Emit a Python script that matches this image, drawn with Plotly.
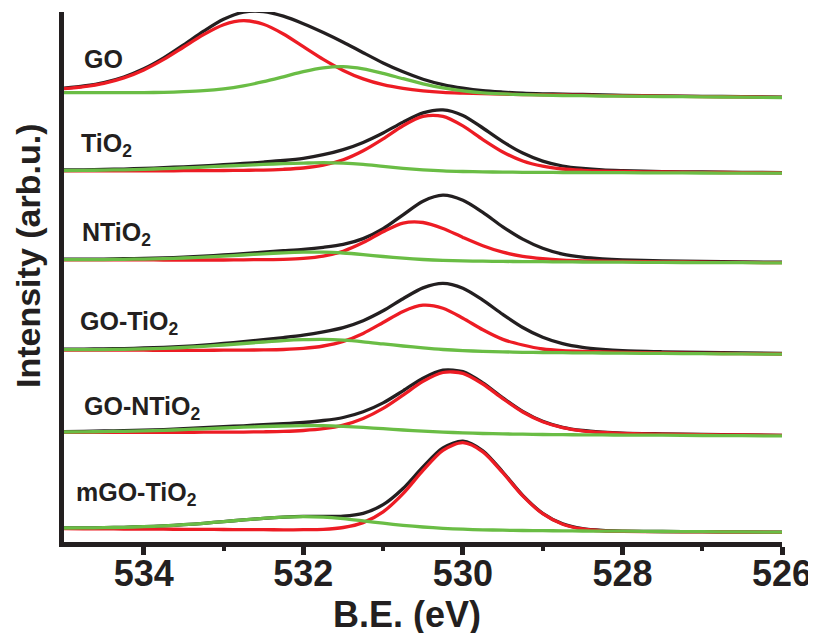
import plotly.graph_objects as go

# Binding energy grid (eV)
be = [535, 534.75, 534.5, 534.25, 534, 533.75, 533.5, 533.25, 533, 532.75, 532.5,
      532.25, 532, 531.75, 531.5, 531.25, 531, 530.75, 530.5, 530.25, 530, 529.75,
      529.5, 529.25, 529, 528.75, 528.5, 528.25, 528, 527.5, 527, 526.5, 526]

samples = ["GO", "TiO<sub>2</sub>", "NTiO<sub>2</sub>", "GO-TiO<sub>2</sub>",
           "GO-NTiO<sub>2</sub>", "mGO-TiO<sub>2</sub>"]

# Intensities (arb.u.) relative to each spectrum's own baseline
go_total = [9.5, 11.7, 15.1, 20.7, 28.9, 39.8, 52.9, 66.5, 78.4, 85.5, 86.1, 81.5, 74.0, 65.2, 55.5, 45.0, 34.8, 25.9, 18.5, 13.1, 9.5, 7.0, 5.6, 4.5, 3.9, 3.5, 3.2, 2.7, 2.4, 1.9, 1.4, 1.1, 0.6]
go_peak1 = [9.0, 11.1, 14.4, 19.8, 27.8, 38.3, 50.7, 63.1, 73.0, 77.0, 73.4, 63.7, 51.0, 38.3, 27.3, 18.8, 13.0, 9.3, 6.9, 5.4, 4.6, 4.0, 3.6, 3.1, 2.9, 2.7, 2.5, 2.1, 1.9, 1.5, 1.1, 0.8, 0.4]
go_peak2 = [5.0, 5.0, 5.0, 5.0, 5.1, 5.4, 6.0, 7.0, 8.9, 11.9, 16.0, 20.9, 26.0, 29.8, 31.0, 28.8, 24.3, 19.0, 13.9, 9.8, 6.9, 4.9, 3.8, 3.0, 2.5, 2.2, 2.0, 1.7, 1.5, 1.2, 0.8, 0.6, 0.2]

tio2_total = [3.3, 3.5, 3.9, 4.2, 4.9, 5.6, 6.5, 7.4, 8.6, 9.8, 11.2, 12.8, 15.0, 18.6, 23.7, 30.9, 40.3, 51.2, 60.4, 63.4, 57.9, 45.3, 31.7, 20.2, 12.2, 7.3, 4.8, 3.3, 2.6, 1.7, 1.3, 0.9, 0.7]
tio2_peak1 = [2.4, 2.4, 2.4, 2.4, 2.5, 2.5, 2.6, 2.6, 2.8, 3.0, 3.2, 4.0, 5.3, 8.1, 13.5, 22.5, 34.4, 47.6, 56.9, 56.9, 47.4, 33.7, 21.3, 12.3, 7.1, 4.3, 3.0, 2.2, 1.8, 1.3, 0.9, 0.7, 0.5]
tio2_peak2 = [2.8, 2.9, 3.2, 3.5, 4.0, 4.6, 5.4, 6.1, 7.1, 8.0, 8.9, 9.7, 10.2, 10.6, 10.2, 8.9, 6.9, 5.0, 3.5, 2.4, 1.8, 1.4, 1.2, 1.0, 0.9, 0.8, 0.8, 0.7, 0.6, 0.4, 0.3, 0.2, 0.1]

ntio2_total = [3.8, 3.9, 3.9, 4.3, 4.6, 5.1, 5.8, 6.8, 8.0, 9.4, 10.9, 12.3, 13.7, 15.7, 18.6, 24.4, 34.3, 48.2, 61.8, 67.8, 62.7, 50.6, 36.2, 23.9, 14.8, 8.9, 5.8, 4.1, 3.1, 2.1, 1.5, 1.1, 0.8]
ntio2_peak1 = [3.2, 3.2, 3.1, 3.1, 3.1, 3.0, 3.0, 3.0, 3.0, 3.2, 3.4, 3.7, 4.6, 6.9, 11.8, 20.4, 31.2, 39.9, 40.5, 34.5, 25.6, 17.3, 10.8, 6.6, 4.3, 2.9, 2.2, 1.9, 1.6, 1.2, 0.8, 0.6, 0.3]
ntio2_peak2 = [3.4, 3.4, 3.4, 3.7, 3.9, 4.4, 5.0, 5.8, 6.8, 8.0, 9.2, 10.2, 10.8, 10.9, 10.0, 8.4, 6.5, 4.8, 3.5, 2.6, 2.1, 1.8, 1.6, 1.4, 1.3, 1.1, 1.0, 0.9, 0.8, 0.6, 0.4, 0.3, 0.1]

gotio2_total = [5.1, 5.2, 5.4, 5.7, 6.3, 6.9, 7.9, 9.2, 10.8, 12.6, 14.6, 16.7, 19.1, 22.4, 26.7, 33.6, 43.5, 55.6, 66.4, 70.9, 66.1, 54.2, 39.9, 26.8, 17.0, 10.6, 6.9, 4.9, 3.6, 2.5, 1.8, 1.3, 0.8]
gotio2_peak1 = [4.3, 4.3, 4.2, 4.2, 4.1, 4.0, 4.0, 4.0, 4.1, 4.2, 4.4, 4.8, 5.9, 8.3, 12.9, 20.9, 31.8, 42.9, 49.1, 46.1, 36.1, 24.5, 14.9, 9.3, 5.3, 3.6, 2.8, 2.3, 1.9, 1.5, 1.0, 0.6, 0.3]
gotio2_peak2 = [4.6, 4.6, 4.7, 5.0, 5.4, 5.9, 6.8, 7.9, 9.3, 10.8, 12.3, 13.7, 14.6, 14.9, 14.1, 12.5, 10.4, 8.3, 6.4, 4.8, 3.7, 3.0, 2.5, 2.0, 1.8, 1.6, 1.4, 1.3, 1.1, 0.9, 0.6, 0.4, 0.1]

gontio2_total = [4.4, 4.6, 5.0, 5.3, 5.8, 6.4, 7.3, 8.3, 9.3, 10.2, 11.3, 12.3, 13.6, 15.5, 18.5, 24.2, 33.1, 45.2, 57.8, 65.8, 64.3, 53.1, 38.2, 24.6, 14.7, 8.7, 5.5, 3.9, 2.9, 2.1, 1.5, 1.1, 0.7]
gontio2_peak1 = [3.7, 3.7, 3.7, 3.6, 3.6, 3.6, 3.7, 3.8, 3.9, 3.9, 4.2, 4.6, 5.5, 7.3, 10.9, 17.5, 27.6, 40.9, 54.6, 63.5, 62.7, 52.0, 37.4, 24.0, 14.3, 8.4, 5.2, 3.6, 2.7, 1.9, 1.4, 1.0, 0.6]
gontio2_peak2 = [4.0, 4.1, 4.4, 4.7, 5.1, 5.6, 6.4, 7.2, 8.0, 8.8, 9.5, 10.0, 10.3, 10.3, 9.6, 8.6, 7.3, 6.0, 4.9, 3.9, 3.1, 2.5, 2.1, 1.8, 1.5, 1.3, 1.2, 1.1, 0.9, 0.8, 0.5, 0.3, 0.1]

mgotio2_total = [4.3, 4.4, 4.6, 5.0, 5.6, 6.4, 7.6, 9.0, 10.7, 12.4, 14.0, 15.2, 15.9, 15.9, 16.2, 19.0, 27.6, 43.8, 65.4, 84.3, 91.1, 81.5, 60.3, 36.9, 19.0, 8.5, 3.6, 1.8, 1.2, 0.8, 0.6, 0.4, 0.1]
mgotio2_peak1 = [3.6, 3.5, 3.4, 3.3, 3.2, 3.1, 3.0, 2.9, 2.8, 2.7, 2.6, 2.5, 2.6, 3.0, 4.8, 9.7, 20.5, 38.7, 61.9, 82.0, 89.6, 80.5, 59.6, 36.4, 18.6, 8.1, 3.3, 1.5, 0.9, 0.6, 0.4, 0.2, 0.0]
mgotio2_peak2 = [4.3, 4.4, 4.6, 5.0, 5.6, 6.4, 7.6, 9.0, 10.7, 12.4, 14.0, 15.2, 15.7, 15.2, 13.6, 11.4, 9.1, 7.0, 5.3, 4.0, 3.1, 2.5, 2.1, 1.8, 1.6, 1.5, 1.3, 1.2, 1.1, 0.8, 0.6, 0.4, 0.1]

x_ticks = [534, 532, 530, 528, 526]
x_minor = [533, 531, 529, 527]

# ---- layout / style (not data) ----
offsets = [444.3, 368.7, 279.0, 187.7, 106.0, 9.7]   # vertical stacking shift per spectrum
label_pos = [(82, 59), (79, 145), (80, 234), (78, 323), (82, 408), (74, 494)]  # screen px

spectra = [
    (go_total, go_peak1, go_peak2),
    (tio2_total, tio2_peak1, tio2_peak2),
    (ntio2_total, ntio2_peak1, ntio2_peak2),
    (gotio2_total, gotio2_peak1, gotio2_peak2),
    (gontio2_total, gontio2_peak1, gontio2_peak2),
    (mgotio2_total, mgotio2_peak1, mgotio2_peak2),
]

BLACK = "#231F20"
RED = "#ED1C24"
GREEN = "#6ABD45"
FONT = "Liberation Sans, Arial, sans-serif"

PAGE = 8                      # default body margin of the html page
W, H = 816 - PAGE, 633 - PAGE
ML, MT = 64 - PAGE, 12 - PAGE
MR = W - (782 - PAGE)
MB = H - (542 - PAGE)
PW, PH = W - ML - MR, H - MT - MB

fig = go.Figure()
for (tot, p1, p2), off in zip(spectra, offsets):
    for ys, col in ((tot, BLACK), (p1, RED), (p2, GREEN)):
        fig.add_trace(go.Scatter(
            x=be, y=[v + off for v in ys], mode="lines",
            line=dict(color=col, width=3.3, shape="spline", smoothing=0.8),
            hoverinfo="skip", showlegend=False))

def px2paper(sx, sy):
    fx, fy = sx - PAGE, sy - PAGE
    return (fx - ML) / PW, (H - MB - fy) / PH

annotations = []
for name, (lx, ly) in zip(samples, label_pos):
    ax, ay = px2paper(lx, ly)
    annotations.append(dict(x=ax, y=ay, xref="paper", yref="paper", text=name,
                            showarrow=False, xanchor="left", yanchor="middle",
                            font=dict(family=FONT, size=25, color=BLACK, weight="bold")))

tx, ty = px2paper(407, 614)
annotations.append(dict(x=tx, y=ty, xref="paper", yref="paper", text="B.E. (eV)",
                        showarrow=False, xanchor="center", yanchor="middle",
                        font=dict(family=FONT, size=36, color=BLACK, weight="bold")))
yx, yy = px2paper(28, 256)
annotations.append(dict(x=yx, y=yy, xref="paper", yref="paper", text="Intensity (arb.u.)",
                        textangle=-90, showarrow=False, xanchor="center", yanchor="middle",
                        font=dict(family=FONT, size=34, color=BLACK, weight="bold")))

fig.update_layout(
    width=W, height=H,
    margin=dict(l=ML, r=MR, t=MT, b=MB, pad=0, autoexpand=False),
    paper_bgcolor="white", plot_bgcolor="white",
    showlegend=False,
    annotations=annotations,
    xaxis=dict(range=[535, 526], showgrid=False, zeroline=False, automargin=False,
               showline=True, linewidth=5, linecolor=BLACK,
               tickmode="array", tickvals=x_ticks, ticktext=[str(t) for t in x_ticks],
               ticks="outside", ticklen=8, tickwidth=5, tickcolor=BLACK,
               ticklabelstandoff=-12,
               tickfont=dict(family=FONT, size=36, color=BLACK, weight="bold"),
               minor=dict(tickvals=x_minor, ticks="outside", ticklen=4,
                          tickwidth=4, tickcolor=BLACK, showgrid=False)),
    yaxis=dict(range=[0, PH], showgrid=False, zeroline=False, showline=True,
               automargin=False,
               linewidth=5, linecolor=BLACK, showticklabels=False, ticks=""),
)

fig.write_html("out.html")
